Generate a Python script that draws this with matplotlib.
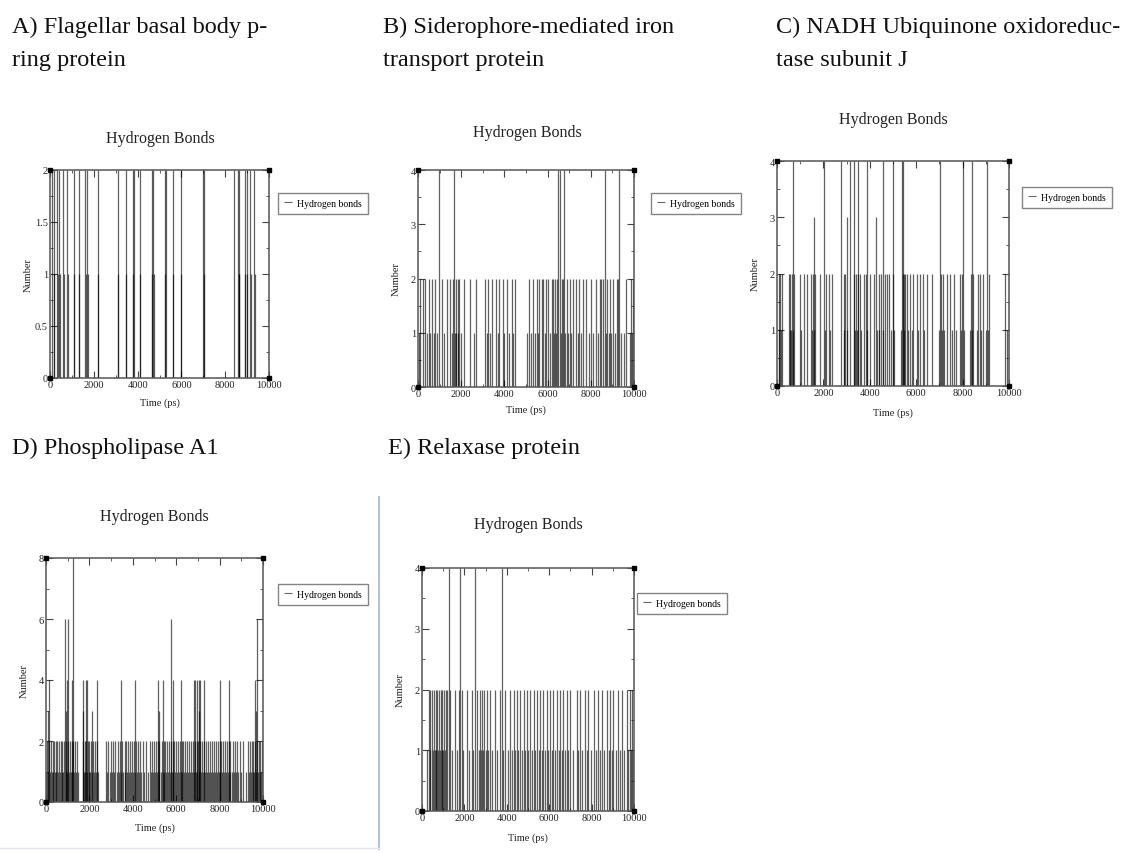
import matplotlib
matplotlib.use("Agg")
import matplotlib.pyplot as plt
from matplotlib.lines import Line2D
from matplotlib.ticker import MultipleLocator

# ---------------- data (spike times in ps, grouped by H-bond count) ----------------
A_t2 = [80, 180, 330, 420, 610, 790, 1090, 1310, 1610, 1700, 2170, 3100, 3470, 3770, 3830,
        4100, 4650, 4710, 5230, 5290, 5610, 5970, 6990, 7050, 8400, 8590, 8630, 8890, 9000,
        9150, 9330]
A_t1 = [200, 350, 440, 620, 800, 1110, 1320, 1630, 1720, 2190, 3120, 3490, 3790, 4120, 4670,
        4730, 5250, 5630, 5990, 7010, 8610, 8650, 8910, 9010, 9170, 9350, 9990]

B_t4 = [950, 1680, 6490, 6570, 6750, 8650, 9310]
B_t2 = [110, 230, 340, 490, 650, 800, 1110, 1340, 1490, 1620, 1770, 1830, 1920, 2110, 2420,
        2690, 3110, 3260, 3420, 3620, 3770, 3920, 4110, 4340, 4490, 5150, 5340, 5490, 5620,
        5720, 5800, 5920, 6030, 6190, 6260, 6350, 6450, 6650, 6720, 6880, 7030, 7190, 7310,
        7460, 7650, 7800, 7990, 8260, 8420, 8490, 8570, 8750, 8880, 9030, 9190, 9260, 9650,
        9880, 9950]
B_t1 = [50, 400, 560, 720, 900, 1200, 1560, 1700, 1740, 1860, 2000, 2600, 3180, 3340, 3700,
        4000, 4200, 4400, 5050, 5250, 5400, 5550, 5860, 6100, 6300, 6400, 6600, 6800, 6950,
        7100, 7400, 7550, 7900, 8100, 8350, 8700, 8820, 8950, 9100, 9400, 9550, 9800, 9920]

C_t4 = [690, 2010, 2750, 3150, 3320, 3510, 3870, 4590, 5010, 5390, 5440, 7020, 8020, 8420, 9050]
C_t3 = [1610, 3010, 4270]
C_t2 = [70, 140, 220, 500, 570, 650, 720, 1000, 1150, 1290, 1460, 1550, 1650, 1860, 2120,
        2260, 2360, 2870, 2940, 3300, 3410, 3470, 3580, 3730, 3840, 4010, 4180, 4380, 4470,
        4640, 4730, 4840, 4990, 5420, 5470, 5530, 5590, 5730, 5870, 6020, 6160, 6300, 6450,
        6660, 7050, 7140, 7310, 7450, 7620, 7880, 7970, 8370, 8450, 8670, 8740, 8880, 9140,
        9810, 9990]
C_t1 = [100, 180, 540, 620, 700, 1050, 1500, 1580, 2050, 2300, 2900, 3000, 3350, 3450, 3620,
        3900, 4300, 4400, 4550, 4900, 5050, 5350, 5480, 5650, 5800, 6080, 6350, 7000, 7100,
        7200, 7550, 7700, 7920, 8050, 8300, 8400, 8600, 8800, 9000, 9100, 9900]

D_t8 = [1230]
D_t6 = [880, 1030, 5750, 9720]
D_t4 = [150, 950, 1190, 1690, 1850, 1910, 2340, 3450, 4080, 5140, 5390, 5850, 6230, 6800,
        6880, 6950, 7030, 7110, 7260, 8000, 8420, 9650]
D_t3 = [100, 920, 1720, 2110, 5230, 7050, 9690]
D_t2 = [60, 150, 230, 300, 380, 450, 520, 600, 680, 760, 850, 940, 1020, 1100, 1180, 1260,
        1340, 1420, 1700, 1780, 1850, 1920, 2000, 2080, 2160, 2250, 2340, 2750, 2850, 3000,
        3100, 3180, 3300, 3420, 3520, 3620, 3700, 3800, 3880, 3960, 4050, 4150, 4250, 4340,
        4450, 4600, 4780, 4880, 4960, 5050, 5140, 5230, 5330, 5420, 5500, 5580, 5660, 5740,
        5830, 5910, 6000, 6080, 6160, 6250, 6330, 6420, 6500, 6600, 6700, 6780, 6860, 6940,
        7020, 7100, 7200, 7300, 7380, 7460, 7560, 7660, 7750, 7830, 7910, 8000, 8080, 8160,
        8250, 8330, 8420, 8500, 8600, 8700, 8800, 8920, 9100, 9300, 9400, 9480, 9560, 9640,
        9720, 9800, 9880, 9960]
D_t1 = [20, 110, 190, 270, 340, 410, 480, 560, 640, 720, 800, 900, 980, 1060, 1140, 1220,
        1300, 1380, 1460, 1740, 1820, 1890, 1960, 2040, 2120, 2200, 2300, 2400, 2800, 2950,
        3050, 3140, 3250, 3360, 3460, 3570, 3660, 3750, 3840, 3920, 4000, 4100, 4200, 4300,
        4400, 4520, 4700, 4830, 4920, 5000, 5100, 5190, 5280, 5370, 5460, 5540, 5620, 5700,
        5790, 5870, 5960, 6040, 6120, 6200, 6290, 6380, 6460, 6550, 6650, 6740, 6820, 6900,
        6980, 7060, 7150, 7250, 7340, 7420, 7510, 7610, 7700, 7790, 7870, 7960, 8040, 8120,
        8200, 8290, 8370, 8460, 8550, 8650, 8750, 8850, 9000, 9200, 9350, 9440, 9520, 9600,
        9680, 9760, 9840, 9920]

E_t4 = [1260, 1800, 2510, 3770]
E_t2 = [320, 400, 480, 560, 640, 720, 800, 880, 960, 1040, 1120, 1180, 1330, 1570, 1730,
        1880, 2120, 2360, 2590, 2750, 2830, 2940, 3060, 3220, 3450, 3690, 3930, 4160, 4320,
        4470, 4630, 4790, 4950, 5100, 5260, 5420, 5570, 5730, 5890, 6040, 6200, 6360, 6520,
        6670, 6830, 6990, 7300, 7460, 7690, 7850, 8090, 8320, 8480, 8710, 8870, 9030, 9260,
        9420, 9660, 9810, 9920]
E_t1 = [250, 360, 520, 600, 680, 760, 840, 920, 1000, 1080, 1400, 1650, 1950, 2200, 2420,
        2680, 2790, 2880, 3000, 3120, 3300, 3550, 3800, 4050, 4250, 4400, 4550, 4700, 4870,
        5020, 5180, 5340, 5500, 5650, 5800, 5960, 6120, 6280, 6440, 6600, 6750, 6900, 7100,
        7380, 7550, 7780, 7950, 8200, 8400, 8600, 8800, 8950, 9150, 9350, 9550, 9730, 9880,
        9970]

panel_titles = ["A) Flagellar basal body p-\nring protein",
                "B) Siderophore-mediated iron\ntransport protein",
                "C) NADH Ubiquinone oxidoreduc-\ntase subunit J",
                "D) Phospholipase A1",
                "E) Relaxase protein"]
plot_title = "Hydrogen Bonds"
x_label = "Time (ps)"
y_label = "Number"
legend_label = "Hydrogen bonds"
x_max = 10000

# ---------------- figure ----------------
W, H = 1133, 854
fig = plt.figure(figsize=(W / 100, H / 100), dpi=100)
SERIF = ["Liberation Serif", "DejaVu Serif"]
plt.rcParams["font.family"] = SERIF


def rect(x0, y0, x1, y1):
    return [x0 / W, 1 - y1 / H, (x1 - x0) / W, (y1 - y0) / H]


def fx(x):
    return x / W


def fy(y):
    return 1 - y / H


panels = [
    dict(box=(50, 171, 269, 379), spikes=[(A_t1, 1), (A_t2, 2)], ymax=2, ymaj=0.5, ymin=0.25,
         ttl=(160, 139), leg=(278, 194), xl=403),
    dict(box=(418, 171, 634, 388), spikes=[(B_t1, 1), (B_t2, 2), (B_t4, 4)], ymax=4, ymaj=1,
         ymin=0.5, ttl=(527, 133), leg=(651, 194), xl=410),
    dict(box=(777, 162, 1009, 387), spikes=[(C_t1, 1), (C_t2, 2), (C_t3, 3), (C_t4, 4)],
         ymax=4, ymaj=1, ymin=0.5, ttl=(893, 120), leg=(1022, 188), xl=413),
    dict(box=(46, 559, 263, 803), spikes=[(D_t1, 1), (D_t2, 2), (D_t3, 3), (D_t4, 4),
                                         (D_t6, 6), (D_t8, 8)],
         ymax=8, ymaj=2, ymin=1, ttl=(154, 517), leg=(278, 585), xl=828),
    dict(box=(422, 569, 634, 812), spikes=[(E_t1, 1), (E_t2, 2), (E_t4, 4)], ymax=4, ymaj=1,
         ymin=0.5, ttl=(528, 525), leg=(637, 594), xl=838),
]

for p in panels:
    ax = fig.add_axes(rect(*p["box"]))
    first = True
    for times, level in p["spikes"]:
        ax.vlines(times, 0, level, colors="black", linewidth=0.9, alpha=0.62,
                  label=legend_label if first else None)
        first = False
    ax.set_xlim(0, x_max)
    ax.set_ylim(0, p["ymax"])
    ax.xaxis.set_major_locator(MultipleLocator(2000))
    ax.xaxis.set_minor_locator(MultipleLocator(1000))
    ax.yaxis.set_major_locator(MultipleLocator(p["ymaj"]))
    ax.yaxis.set_minor_locator(MultipleLocator(p["ymin"]))
    ax.tick_params(which="both", direction="in", top=True, right=True, labelsize=7.5,
                   pad=1.5, color="#444444", labelcolor="#222222")
    ax.tick_params(which="major", length=5, width=0.8)
    ax.tick_params(which="minor", length=2.5, width=0.6)
    for s in ax.spines.values():
        s.set_linewidth(1.1)
        s.set_color("#555555")
    ax.yaxis.set_major_formatter(plt.FuncFormatter(lambda v, _: f"{v:g}"))
    # corner markers
    ax.plot([0, x_max, 0, x_max], [0, 0, p["ymax"], p["ymax"]], "s", color="black",
            markersize=3.5, clip_on=False, zorder=5)
    x0, y0, x1, y1 = p["box"]
    fig.text(fx(p["ttl"][0]), fy(p["ttl"][1]), plot_title, ha="center", va="center",
             fontsize=11.5, color="#222222")
    fig.text(fx((x0 + x1) / 2), fy(p["xl"]), x_label, ha="center", va="center",
             fontsize=7.5, color="#222222")
    fig.text(fx(x0 - 22), fy((y0 + y1) / 2), y_label, ha="center", va="center",
             rotation=90, fontsize=7.5, color="#222222")
    leg = ax.legend(loc="upper left", bbox_to_anchor=(fx(p["leg"][0]), fy(p["leg"][1])),
                    bbox_transform=fig.transFigure, fontsize=7, frameon=True, fancybox=False,
                    handlelength=0.8, handletextpad=0.6, borderpad=0.6, borderaxespad=0)
    leg.get_frame().set_edgecolor("#666666")
    leg.get_frame().set_linewidth(1.0)
    for lh in leg.get_lines():
        lh.set_alpha(0.6)
        lh.set_linewidth(0.8)

# panel letter titles
letter_pos = [(12, 17), (383, 17), (776, 17), (12, 438), (388, 438)]
for (x, y), t in zip(letter_pos, panel_titles):
    fig.text(fx(x), fy(y), t, ha="left", va="top", fontsize=17.5, color="#111111",
             linespacing=1.75)

# separator lines from the screenshot
fig.add_artist(Line2D([fx(379), fx(379)], [fy(498), fy(850)], color="#b4c2dc", lw=1.5))
fig.add_artist(Line2D([fx(0), fx(379)], [fy(849), fy(849)], color="#e4e8ee", lw=1.0))

fig.savefig("out.png", dpi=100)
